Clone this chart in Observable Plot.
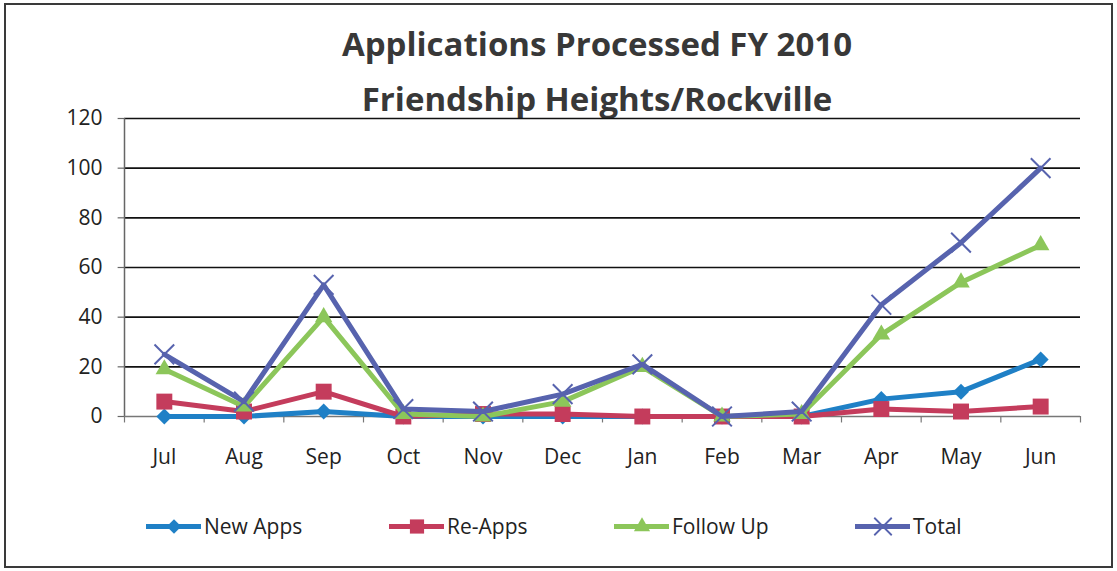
<!DOCTYPE html>
<html>
<head>
<meta charset="utf-8">
<script src="https://cdn.jsdelivr.net/npm/d3@7"></script>
<script src="https://cdn.jsdelivr.net/npm/@observablehq/plot@0.6"></script>
<style>
  html, body { margin: 0; padding: 0; background: #fff; }
  #wrap { position: relative; width: 1117px; height: 571px; overflow: hidden; font-family: "Open Sans", sans-serif; }
  #frame { position: absolute; left: 4px; top: 3px; width: 1105px; height: 561px; border: 2px solid #3a3a3a; box-sizing: content-box; }
  #title { position: absolute; left: 0; top: 16px; width: 1194px; text-align: center; font-weight: bold; font-size: 33px; line-height: 55px; color: #383838; }
  #chart { position: absolute; left: 0; top: 100px; }
  #legend { position: absolute; top: 508px; left: 0; width: 1117px; height: 36px; }
  .item { position: absolute; top: 0; display: flex; align-items: center; font-size: 21px; color: #222; height: 36px; }
  .item svg { margin-right: 3px; }
</style>
</head>
<body>
<div id="wrap">
  <div id="frame"></div>
  <div id="title"></div>
  <div id="chart"></div>
  <div id="legend"></div>
</div>
<script>
const titleLines = ["Applications Processed FY 2010", "Friendship Heights/Rockville"];
const months = ["Jul","Aug","Sep","Oct","Nov","Dec","Jan","Feb","Mar","Apr","May","Jun"];
const seriesNames = ["New Apps","Re-Apps","Follow Up","Total"];
const newApps  = [0, 0, 2, 0, 0, 0, 0, 0, 0, 7, 10, 23];
const reApps   = [6, 2, 10, 0, 1, 1, 0, 0, 0, 3, 2, 4];
const followUp = [19, 4, 40, 1, 0, 6, 20, 0, 1, 33, 54, 69];
const total    = [25, 6, 53, 3, 2, 9, 21, 0, 2, 45, 70, 100];
const yTicks = [0, 20, 40, 60, 80, 100, 120];
const colors = ["#1f80c6", "#c43c5c", "#8cc65a", "#5763ae"];
const symbols = ["diamond2", "square", "triangle", "times"];

document.getElementById("title").innerHTML = titleLines.map(t => `<div>${t}</div>`).join("");

const seriesVals = [newApps, reApps, followUp, total];
const data = [];
seriesNames.forEach((s, k) => seriesVals[k].forEach((v, i) => data.push({series: s, k, i, month: months[i], value: v})));

const marks = [
  Plot.ruleY(yTicks.filter(t => t > 0), {stroke: "#111", strokeWidth: 1.6}),
  Plot.ruleX([0], {y1: 0, y2: 120, stroke: "#666", strokeWidth: 1.5}),
  Plot.ruleY([0], {stroke: "#777", strokeWidth: 1.5}),
  Plot.ruleX(d3.range(months.length + 1), {y1: 0, y2: -2.6, stroke: "#777", strokeWidth: 1.2}),
  Plot.ruleY(yTicks, {x1: 0, x2: -0.08, stroke: "#666", strokeWidth: 1.2}),
  Plot.axisY({ticks: yTicks, tickSize: 0, tickPadding: 22, fontSize: 21, fill: "#222", label: null}),
  Plot.axisX({ticks: months.map((m, i) => i + 0.5), tickFormat: (d) => months[Math.floor(d)], tickSize: 0, tickPadding: 33, fontSize: 21, fill: "#222", label: null})
];
seriesNames.forEach((s, k) => {
  const d = data.filter(r => r.k === k);
  marks.push(Plot.line(d, {x: r => r.i + 0.5, y: "value", stroke: colors[k], strokeWidth: 5, strokeLinejoin: "round"}));
  const rr = [7.2, 9, 6.5, 9][k];
  if (symbols[k] === "times") {
    marks.push(Plot.dot(d, {x: r => r.i + 0.5, y: "value", symbol: "times", r: rr, stroke: colors[k], strokeWidth: 2, fill: "none"}));
  } else {
    marks.push(Plot.dot(d, {x: r => r.i + 0.5, y: "value", symbol: symbols[k], r: rr, fill: colors[k], stroke: "none"}));
  }
});

const chart = Plot.plot({
  width: 1117,
  height: 400,
  marginLeft: 124,
  marginRight: 37,
  marginTop: 18,
  marginBottom: 84,
  x: {domain: [0, months.length], axis: null},
  y: {domain: [0, 120], axis: null},
  style: {fontFamily: "Open Sans, sans-serif", background: "transparent", overflow: "visible"},
  marks
});
document.getElementById("chart").appendChild(chart);

// legend
const leg = document.getElementById("legend");
seriesNames.forEach((s, k) => {
  const div = document.createElement("div");
  div.className = "item";
  div.style.left = [146, 389, 614, 855][k] + "px";
  const sw = Plot.plot({
    width: 55, height: 24, margin: 0,
    x: {domain: [0, 2], axis: null}, y: {domain: [0, 1], axis: null},
    style: {background: "transparent", overflow: "visible"},
    marks: [
      Plot.ruleY([0.5], {stroke: colors[k], strokeWidth: 5}),
      symbols[k] === "times"
        ? Plot.dot([1], {x: d => d, y: 0.5, symbol: "times", r: 8, stroke: colors[k], strokeWidth: 1.8})
        : Plot.dot([1], {x: d => d, y: 0.5, symbol: symbols[k], r: [6.5, 8, 6, 8][k], fill: colors[k]})
    ]
  });
  div.appendChild(sw);
  const span = document.createElement("span");
  span.textContent = s;
  div.appendChild(span);
  leg.appendChild(div);
});
</script>
</body>
</html>
